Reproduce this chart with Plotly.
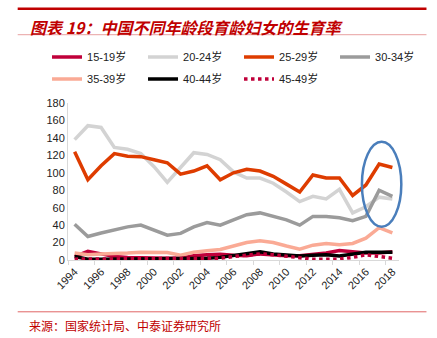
import plotly.graph_objects as go

years = list(range(1994, 2019))
tick_years = list(range(1994, 2019, 2))
tick_labels = [str(y) for y in tick_years]

series_names = ["15-19岁", "20-24岁", "25-29岁", "30-34岁", "35-39岁", "40-44岁", "45-49岁"]

r15_19 = [4, 10, 7, 4, 3, 2.5, 2.5, 2, 2, 5, 6, 6.5, 5.5, 5, 7, 6, 5, 5, 6.5, 8, 11, 9, 8, 8, 9.5]
r20_24 = [138, 154, 152, 129, 127, 122, 107, 89, 106, 123, 121, 115, 101, 94, 94, 88, 78, 67, 73, 70, 81, 54, 61, 72, 70]
r25_29 = [124, 92, 108, 122, 119, 118.5, 115, 111.5, 98.5, 102, 108, 92, 100, 104, 102, 96, 87, 78, 97.5, 94, 94, 74, 86, 110, 106]
r30_34 = [41, 27, 31, 35, 38, 40, 34, 28.5, 30.5, 38, 43, 40, 46, 52, 54, 50, 46, 40, 50, 50, 48.5, 45, 50, 80, 73]
r35_39 = [8, 6, 7, 7, 8, 9, 9, 8.5, 5.5, 9, 10.5, 12, 16, 20, 22, 20, 16, 12.5, 17, 19, 17.5, 19, 25, 37, 31]
r40_44 = [4, 1, 1, 1, 1, 1, 1, 1, 1, 1.5, 2, 3, 5, 7, 9.5, 7, 5.5, 4.5, 5.5, 6, 4.5, 6.5, 9, 9, 9]
r45_49 = [1, 1, 1, 1, 1, 1, 1, 1, 1, 1, 1.5, 2, 4, 6, 7, 6, 4, 2, 1, 1, 1, 3, 6, 4, 2]

series_values = [r15_19, r20_24, r25_29, r30_34, r35_39, r40_44, r45_49]
colors = ["#C0003A", "#D3D3D3", "#DE3C00", "#9B9B9B", "#FAAA95", "#000000", "#C0003A"]
dashes = ["solid"] * 6 + ["dot"]
legend_ids = ["legend"] * 4 + ["legend2"] * 3

fig = go.Figure()
for name, vals, c, d, lg in zip(series_names, series_values, colors, dashes, legend_ids):
    fig.add_trace(go.Scatter(
        x=years, y=vals, mode="lines", name=name, legend=lg,
        line=dict(color=c, width=3.5, dash=d),
    ))

legend_common = dict(
    orientation="h", xanchor="left", yanchor="top",
    entrywidth=51, entrywidthmode="pixels",
    font=dict(family="Liberation Sans, Noto Sans CJK SC", size=11, color="#222222"),
    bgcolor="rgba(0,0,0,0)",
)

fig.update_layout(
    width=437, height=338,
    margin=dict(l=68, r=38, t=103, b=78),
    paper_bgcolor="white", plot_bgcolor="white",
    font=dict(family="Liberation Sans, Arial, Noto Sans CJK SC", size=11, color="#222222"),
    showlegend=True,
    legend=dict(x=-0.0634, y=1.386, **legend_common),
    legend2=dict(x=-0.0634, y=1.246, **legend_common),
    xaxis=dict(
        range=[1993.5, 2018.5], tickmode="array", tickvals=tick_years, ticktext=tick_labels,
        tickangle=-45, showgrid=False, zeroline=False,
        showline=True, linecolor="#D9D9D9", linewidth=1, ticks="",
        minor=dict(ticks="outside", tickmode="linear", tick0=1993.5, dtick=2,
                   ticklen=4, tickcolor="#D9D9D9", showgrid=False),
        tickfont=dict(size=11, color="#222222"),
    ),
    yaxis=dict(
        range=[0, 180], tickmode="linear", tick0=0, dtick=20,
        showgrid=False, zeroline=False, showline=True, linecolor="#D9D9D9", linewidth=1,
        ticks="", tickfont=dict(size=11, color="#222222"),
    ),
    shapes=[
        dict(type="line", xref="paper", yref="paper", x0=-0.152, x1=1.083, y0=1.60, y1=1.60,
             line=dict(color="#C00000", width=2.5)),
        dict(type="line", xref="paper", yref="paper", x0=-0.152, x1=1.083, y0=1.435, y1=1.435,
             line=dict(color="#E8A0A0", width=1)),
        dict(type="line", xref="paper", yref="paper", x0=-0.152, x1=1.083, y0=-0.33, y1=-0.33,
             line=dict(color="#E06666", width=1)),
        dict(type="circle", xref="paper", yref="paper", x0=0.888, x1=1.007, y0=0.212, y1=0.753,
             line=dict(color="#4A7EBB", width=2.5)),
    ],
    annotations=[
        dict(text="<b><i>图表 19：中国不同年龄段育龄妇女的生育率</i></b>", xref="paper", yref="paper",
             x=-0.122, y=1.487, xanchor="left", yanchor="middle", showarrow=False,
             font=dict(family="Noto Sans CJK SC", size=16, color="#C00000")),
        dict(text="来源：国家统计局、中泰证券研究所", xref="paper", yref="paper",
             x=-0.125, y=-0.415, xanchor="left", yanchor="middle", showarrow=False,
             font=dict(family="Noto Sans CJK SC", size=12, color="#C00000")),
    ],
)

fig.write_html("out.html")
